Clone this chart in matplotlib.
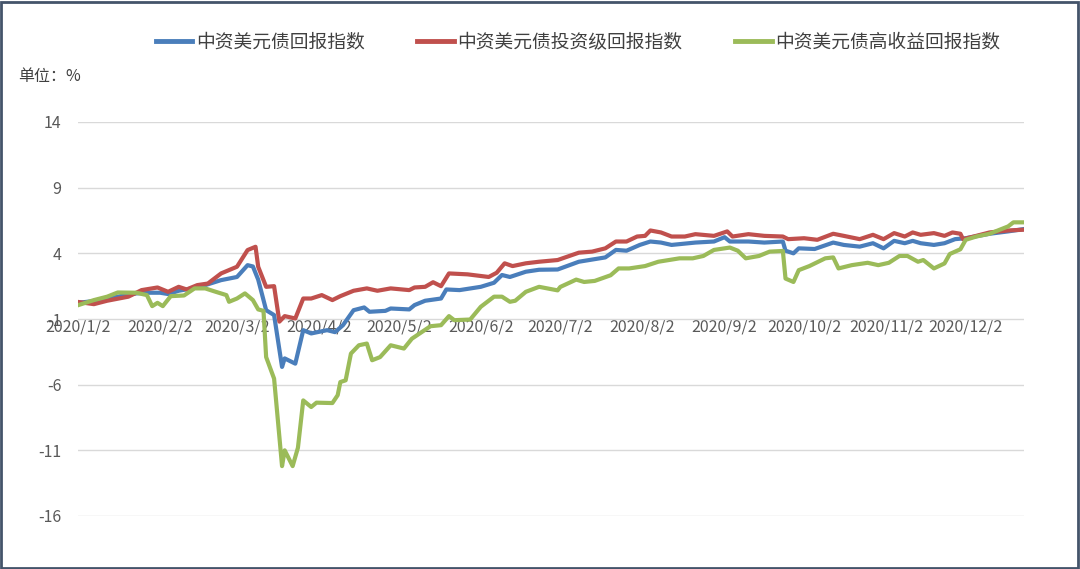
import numpy as np
import matplotlib.pyplot as plt
from matplotlib.patches import Rectangle

plt.rcParams['font.family'] = ['Noto Sans CJK SC', 'DejaVu Sans']
plt.rcParams['axes.unicode_minus'] = False

# days counted from 2020/1/2, values in %
blue_days = [0, 9, 15, 22, 27, 31, 34, 38, 43, 48, 54, 60, 64, 66, 68, 71, 74, 77, 78, 82,
             85, 88, 94, 97, 100, 104, 108, 110, 116, 118, 125, 127, 131, 137, 139, 144, 152, 157, 160, 163,
             169, 174, 181, 189, 199, 203, 207, 212, 216, 220, 224, 233, 240, 244, 246, 253, 259, 266, 267, 270,
             272, 278, 285, 289, 295, 300, 304, 308, 312, 315, 318, 323, 327, 331, 335, 344, 351, 357]
blue_vals = [0.23, 0.44, 0.7, 0.95, 1.0, 1.0, 0.9, 1.15, 1.33, 1.58, 1.96, 2.2, 3.1, 3.0, 2.0, -0.33, -0.7, -4.65, -4.0, -4.4,
             -1.85, -2.1, -1.85, -2.0, -1.47, -0.33, -0.12, -0.45, -0.38, -0.2, -0.27, 0.06, 0.39, 0.56, 1.25, 1.2, 1.45, 1.76, 2.35, 2.2,
             2.6, 2.75, 2.77, 3.36, 3.69, 4.26, 4.2, 4.64, 4.9, 4.82, 4.64, 4.82, 4.9, 5.23, 4.9, 4.9, 4.82, 4.9, 4.2, 4.0,
             4.38, 4.33, 4.82, 4.64, 4.51, 4.77, 4.38, 4.95, 4.77, 4.95, 4.77, 4.64, 4.77, 5.08, 5.15, 5.49, 5.67, 5.85]

red_days = [0, 6, 11, 19, 24, 30, 34, 38, 41, 45, 49, 54, 60, 64, 67, 68, 71, 74, 76, 78,
            82, 85, 88, 92, 96, 99, 104, 109, 113, 118, 125, 127, 131, 134, 137, 140, 147, 155, 158, 161,
            164, 169, 174, 181, 189, 194, 199, 203, 207, 211, 214, 216, 220, 224, 229, 233, 240, 245, 247, 253,
            259, 266, 268, 274, 279, 285, 289, 295, 300, 304, 308, 312, 315, 318, 323, 327, 330, 333, 334, 338,
            344, 351, 357]
red_vals = [0.3, 0.13, 0.39, 0.7, 1.2, 1.4, 1.07, 1.45, 1.25, 1.58, 1.7, 2.47, 2.98, 4.25, 4.5, 2.98, 1.45, 1.5, -1.2, -0.78,
            -0.96, 0.56, 0.56, 0.82, 0.44, 0.74, 1.15, 1.33, 1.15, 1.33, 1.2, 1.4, 1.45, 1.8, 1.5, 2.47, 2.4, 2.2, 2.52, 3.24,
            3.03, 3.24, 3.36, 3.49, 4.05, 4.13, 4.38, 4.9, 4.9, 5.28, 5.33, 5.74, 5.59, 5.28, 5.28, 5.46, 5.33, 5.67, 5.28, 5.46,
            5.33, 5.28, 5.08, 5.15, 5.03, 5.49, 5.33, 5.08, 5.41, 5.08, 5.54, 5.28, 5.59, 5.41, 5.54, 5.33, 5.59, 5.49, 5.08, 5.28,
            5.59, 5.74, 5.8]

green_days = [0, 6, 11, 15, 22, 26, 28, 30, 32, 35, 40, 44, 48, 52, 56, 57, 60, 63, 66, 68,
              70, 71, 74, 77, 78, 81, 83, 85, 88, 90, 96, 98, 99, 101, 103, 106, 109, 111, 114, 118,
              123, 126, 133, 137, 140, 142, 148, 152, 157, 160, 163, 165, 169, 174, 181, 182, 188, 191, 195, 201,
              204, 208, 214, 219, 227, 232, 236, 240, 246, 249, 252, 257, 261, 266, 267, 270, 272, 276, 282, 285,
              287, 292, 298, 302, 306, 310, 313, 317, 319, 323, 327, 329, 333, 335, 339, 344, 351, 353, 357]
green_vals = [0.05, 0.44, 0.7, 1.02, 1.0, 0.82, -0.02, 0.23, -0.02, 0.74, 0.79, 1.33, 1.33, 1.07, 0.82, 0.31, 0.56, 0.95, 0.44, -0.27,
              -0.38, -3.9, -5.54, -12.2, -11.0, -12.2, -10.8, -7.2, -7.7, -7.37, -7.4, -6.8, -5.8, -5.67, -3.63, -3.0, -2.87, -4.14, -3.9, -3.0,
              -3.25, -2.5, -1.55, -1.47, -0.78, -1.09, -1.04, -0.07, 0.7, 0.7, 0.31, 0.39, 1.07, 1.45, 1.18, 1.44, 2.0, 1.82, 1.9, 2.33,
              2.85, 2.85, 3.03, 3.36, 3.62, 3.62, 3.8, 4.26, 4.44, 4.2, 3.62, 3.8, 4.13, 4.18, 2.08, 1.82, 2.72, 3.03, 3.62, 3.69,
              2.85, 3.1, 3.28, 3.1, 3.28, 3.8, 3.8, 3.36, 3.49, 2.85, 3.23, 3.95, 4.31, 5.03, 5.28, 5.49, 6.05, 6.36, 6.36]

names = ['中资美元债回报指数', '中资美元债投资级回报指数', '中资美元债高收益回报指数']
colors = ['#4a7ebb', '#c0504d', '#9bbb59']
yticks = [-16, -11, -6, -1, 4, 9, 14]
tick_months = list(range(1, 13))

base = np.datetime64('2020-01-02')
def to_dates(days):
    return base + np.array(days, dtype='timedelta64[D]')

fig = plt.figure(figsize=(10.8, 5.69), dpi=100)
ax = fig.add_axes([78 / 1080, 1 - 516 / 569, (1024 - 78) / 1080, (516 - 122) / 569])

for d, v, c, n in zip([blue_days, red_days, green_days], [blue_vals, red_vals, green_vals], colors, names):
    ax.plot(to_dates(d), v, color=c, lw=3, label=n, solid_joinstyle='round')

ax.set_ylim(-16, 14)
ax.set_yticks(yticks)
ax.set_xlim(to_dates([0])[0], to_dates([357])[0])
ticks = [np.datetime64('2020-%02d-02' % m) for m in tick_months]
ax.set_xticks(ticks)
ax.set_xticklabels(['2020/%d/2' % m for m in tick_months])
ax.grid(axis='y', color='#d9d9d9', lw=1)
ax.set_axisbelow(True)
for s in ['top', 'right', 'left']:
    ax.spines[s].set_visible(False)
ax.spines['bottom'].set_position(('data', -1))
ax.spines['bottom'].set_visible(False)
ax.tick_params(axis='x', length=0, pad=0, labelsize=11.5, labelcolor='#595959')
ax.tick_params(axis='y', length=0, pad=12, labelsize=11.5, labelcolor='#595959')

leg = fig.legend(loc='center', bbox_to_anchor=(578 / 1080, 1 - 42 / 569), ncol=3, frameon=False,
                 fontsize=13.5, handlelength=1.95, handletextpad=0.2, columnspacing=2.8)
for line in leg.get_lines():
    line.set_linewidth(3.5)
for t in leg.get_texts():
    t.set_color('#404040')

fig.text(18 / 1080, 1 - 76 / 569, '单位：%', fontsize=11.5, color='#404040', va='center')

fig.patches.append(Rectangle((0.001, 0.002), 0.997, 0.995, transform=fig.transFigure,
                             fill=False, edgecolor='#44546a', lw=2))

fig.savefig('out.png', dpi=100)
